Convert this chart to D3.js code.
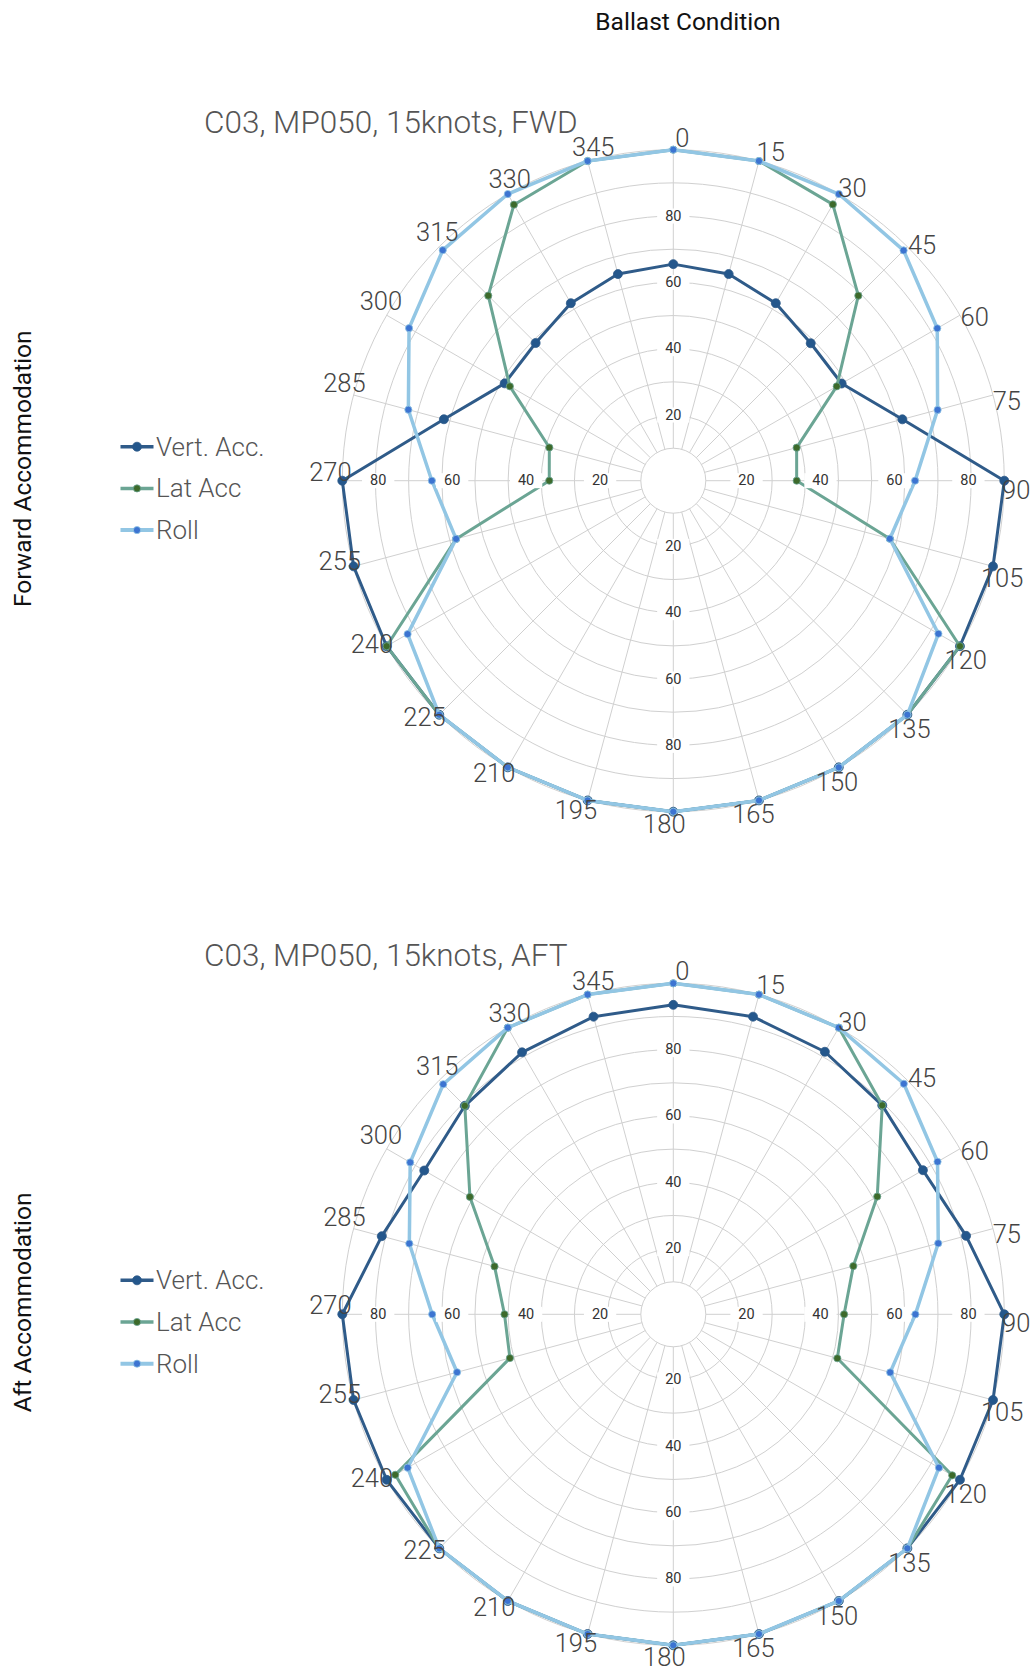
<!DOCTYPE html>
<html><head><meta charset="utf-8">
<script src="https://cdn.jsdelivr.net/npm/d3@7"></script>
<style>body{margin:0;background:#fff;} svg{display:block;}</style>
</head><body>
<svg id="chart" width="1031" height="1669"></svg>
<script>
// ---------- data ----------
const angles = [0,15,30,45,60,75,90,105,120,135,150,165,180,195,210,225,240,255,270,285,300,315,330,345];
const radialTicks = [20,40,60,80];
const seriesNames = ["Vert. Acc.","Lat Acc","Roll"];
const pageTitle = "Ballast Condition";
const rowLabels = ["Forward Accommodation","Aft Accommodation"];
const chartTitles = ["C03, MP050, 15knots, FWD","C03, MP050, 15knots, AFT"];

const fwdVert = [65.5,64.7,62,58.8,58.8,71.7,100,100,100,100,100,100,100,100,100,100,100,100,100,71.8,58.9,58.9,62,64.7];
const fwdLat  = [100,100,96.4,79.1,57.1,38.7,37.4,67.8,100,100,100,100,100,100,100,100,100,68,37.6,38.9,57.1,79.1,96.3,100];
const fwdRoll = [100,100,100,98.4,92.1,82.7,73.1,67.8,92.5,100,100,100,100,100,100,100,92.7,68,73,82.9,92.2,98.5,100,100];

const aftVert = [93.5,93.1,91.6,89.3,87.1,91.6,100,100,100,100,100,100,100,100,100,100,100,100,100,91.2,86.9,89.1,91.4,93.1];
const aftLat  = [100,100,100,89.3,71.2,56.4,51.7,51.4,97.3,100,100,100,100,100,100,100,97,51.2,51.1,56,71,89.1,100,100];
const aftRoll = [100,100,100,98.5,92.2,82.9,73.2,67.9,92.7,100,100,100,100,100,100,100,92.7,67.7,72.9,82.6,91.8,98.3,100,100];

// ---------- styles ----------
const lineColors   = ["#2f5b89","#6ba594","#92c6e4"];
const markerColors = ["#24578c","#3d6a2b","#3c74d1"];
const lineWidths   = [3,3,3.5];
const markerR      = [4.5,3.6,3.6];

const svg = d3.select("#chart");

const rScale = d3.scaleLinear().domain([10,100]).range([32.5,331]);
const gridVals = d3.range(10,101,10);
const toRad = d => d*Math.PI/180;

const greyFont = "Roboto, 'Open Sans', sans-serif";

svg.append("text").attr("x",688).attr("y",21).attr("text-anchor","middle")
  .attr("dominant-baseline","central").attr("font-family",greyFont)
  .attr("font-size",24.5).attr("fill","#111").text(pageTitle);

const panels = [
  {cy:480.7, data:[fwdVert,fwdLat,fwdRoll]},
  {cy:1314.3, data:[aftVert,aftLat,aftRoll]}
];

panels.forEach((p,pi)=>{
  const cx = 673.3, cy = p.cy;
  const g = svg.append("g").attr("transform",`translate(${cx},${cy})`);

  // grid circles
  g.selectAll("circle.grid").data(gridVals).join("circle")
    .attr("r",d=>rScale(d)).attr("fill","none").attr("stroke","#d0d0d0").attr("stroke-width",1);
  // spokes
  g.selectAll("line.spoke").data(angles).join("line")
    .attr("x1",d=>rScale(10)*Math.sin(toRad(d))).attr("y1",d=>-rScale(10)*Math.cos(toRad(d)))
    .attr("x2",d=>rScale(100)*Math.sin(toRad(d))).attr("y2",d=>-rScale(100)*Math.cos(toRad(d)))
    .attr("stroke","#d0d0d0").attr("stroke-width",1);

  // series
  const lineGen = d3.lineRadial().angle(d=>toRad(d.a)).radius(d=>rScale(d.v)).curve(d3.curveLinearClosed);
  p.data.forEach((vals,si)=>{
    const pts = angles.map((a,i)=>({a, v:vals[i]}));
    g.append("path").datum(pts).attr("d",lineGen).attr("fill","none")
      .attr("stroke",lineColors[si]).attr("stroke-width",lineWidths[si]).attr("stroke-linejoin","round");
    g.selectAll(null).data(pts).join("circle")
      .attr("cx",d=>rScale(d.v)*Math.sin(toRad(d.a))).attr("cy",d=>-rScale(d.v)*Math.cos(toRad(d.a)))
      .attr("r",markerR[si]).attr("fill",markerColors[si]).attr("stroke",lineColors[si]).attr("stroke-width",0.8);
  });

  // radial tick labels at 4 directions
  const dirs = [{a:0,k:1},{a:90,k:1.115},{a:180,k:1},{a:270,k:1.115}];
  dirs.forEach(dir=>{
    radialTicks.forEach(t=>{
      const r = rScale(t)*dir.k;
      const x = r*Math.sin(toRad(dir.a)), y = -r*Math.cos(toRad(dir.a));
      const tg = g.append("g").attr("transform",`translate(${x},${y})`);
      const rect = tg.append("rect").attr("fill","#fff");
      const tx = tg.append("text").attr("text-anchor","middle").attr("dominant-baseline","central")
        .attr("font-family",greyFont).attr("font-size",14.5).attr("fill","#333").text(t);
      const bb = tx.node().getBBox();
      rect.attr("x",-bb.width/2-8).attr("y",-7.5).attr("width",bb.width+16).attr("height",15);
    });
  });

  // angular labels
  g.selectAll("text.ang").data(angles).join("text")
    .attr("x",d=>(rScale(100)+12)*Math.sin(toRad(d+1.5)))
    .attr("y",d=>-(rScale(100)+12)*Math.cos(toRad(d+1.5)))
    .attr("text-anchor","middle").attr("dominant-baseline","central")
    .attr("font-family",greyFont).attr("font-weight",300).attr("font-size",25.5).attr("fill","#444")
    .text(d=>d);

  // chart title
  svg.append("text").attr("x",204).attr("y",cy-358.7).attr("dominant-baseline","central")
    .attr("font-family",greyFont).attr("font-weight",300).attr("font-size",31.5).attr("fill","#555")
    .text(chartTitles[pi]);

  // row label
  svg.append("text").attr("transform",`translate(22,${cy-12}) rotate(-90)`)
    .attr("text-anchor","middle").attr("dominant-baseline","central")
    .attr("font-family",greyFont).attr("font-size",24.5).attr("fill","#111").text(rowLabels[pi]);

  // legend
  const lg = svg.append("g").attr("transform",`translate(0,${cy-34})`);
  seriesNames.forEach((n,si)=>{
    const y = si*41.7;
    lg.append("line").attr("x1",120.5).attr("x2",153.5).attr("y1",y).attr("y2",y)
      .attr("stroke",lineColors[si]).attr("stroke-width",lineWidths[si]+0.5);
    lg.append("circle").attr("cx",137).attr("cy",y).attr("r",markerR[si]).attr("fill",markerColors[si])
      .attr("stroke",lineColors[si]).attr("stroke-width",0.8);
    lg.append("text").attr("x",156).attr("y",y).attr("dominant-baseline","central")
      .attr("font-family",greyFont).attr("font-weight",300).attr("font-size",26).attr("fill","#555").text(n);
  });
});
</script>
</body></html>
